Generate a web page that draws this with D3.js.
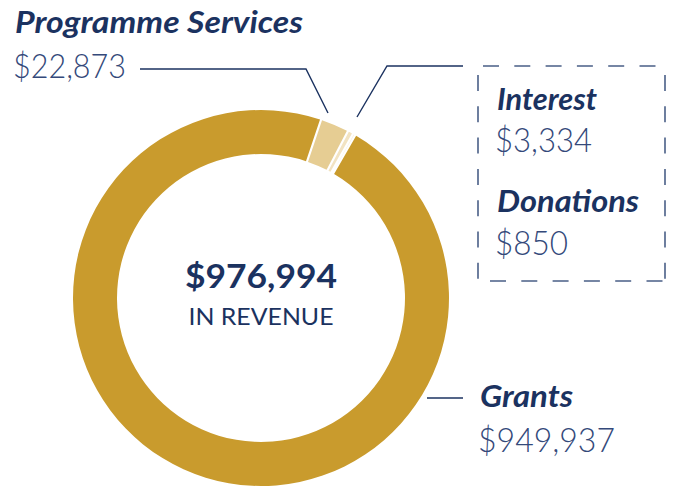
<!DOCTYPE html>
<html>
<head>
<meta charset="utf-8">
<script src="https://cdn.jsdelivr.net/npm/d3@7"></script>
<style>
  body { margin: 0; background: #fff; }
  svg { display: block; }
</style>
</head>
<body>
<div id="chart"></div>
<script>
// revenue sources, clockwise from the top
const labels = ['Programme Services', 'Interest', 'Donations', 'Grants'];
const values = [22873, 3334, 850, 949937];
const colors = ['#e6cd93', '#f2e3c2', '#f6ecd4', '#c99b2d'];
const totalText = '$976,994';
const totalSub = 'IN REVENUE';

const width = 674;
const height = 487;
const cx = 261;
const cy = 298;
const outerR = 188;
const innerR = 144;

const navy = '#1b3260';
const numColor = '#34497a';
const fontFamily = 'Lato, "Open Sans", Roboto, sans-serif';

const fmt = d3.format('$,');

const svg = d3.select('#chart')
  .append('svg')
    .attr('width', width)
    .attr('height', height);

const pie = d3.pie()
  .sort(null)
  .value(d => d)
  .startAngle(0.325)
  .endAngle(0.325 + 2 * Math.PI)
  .padAngle(0.009);

const arc = d3.arc()
  .innerRadius(innerR)
  .outerRadius(outerR);

const g = svg.append('g')
  .attr('transform', `translate(${cx},${cy})`);

g.selectAll('path.slice')
  .data(pie(values))
  .join('path')
    .attr('class', 'slice')
    .attr('d', arc)
    .attr('fill', (d, i) => colors[i]);

// centre text
g.append('text')
  .attr('x', 0)
  .attr('y', -10)
  .attr('text-anchor', 'middle')
  .style('font-family', fontFamily)
  .style('font-weight', 700)
  .style('font-size', '32px')
  .attr('fill', navy)
  .attr('textLength', 152)
  .attr('lengthAdjust', 'spacingAndGlyphs')
  .text(totalText);

g.append('text')
  .attr('x', 0)
  .attr('y', 27)
  .attr('text-anchor', 'middle')
  .style('font-family', fontFamily)
  .style('font-weight', 400)
  .style('font-size', '23px')
  .attr('fill', navy)
  .attr('textLength', 145)
  .attr('lengthAdjust', 'spacingAndGlyphs')
  .text(totalSub);

// labels: name, value, positions and widths read from the layout
const labelPos = [
  {x: 15, yName: 33, yVal: 78, wName: 288, wVal: 113},
  {x: 497, yName: 110, yVal: 152, wName: 100, wVal: 97},
  {x: 497, yName: 212, yVal: 255, wName: 142, wVal: 73},
  {x: 480, yName: 407, yVal: 452, wName: 93, wVal: 137}
];

labels.forEach((name, i) => {
  const p = labelPos[i];
  svg.append('text')
    .attr('x', p.x)
    .attr('y', p.yName)
    .style('font-family', fontFamily)
    .style('font-weight', 700)
    .style('font-style', 'italic')
    .style('font-size', '30px')
    .attr('fill', navy)
    .attr('textLength', p.wName)
    .attr('lengthAdjust', 'spacingAndGlyphs')
    .text(name);

  svg.append('text')
    .attr('x', p.x - 2)
    .attr('y', p.yVal)
    .style('font-family', fontFamily)
    .style('font-weight', 300)
    .style('font-size', '33px')
    .attr('fill', numColor)
    .attr('textLength', p.wVal)
    .attr('lengthAdjust', 'spacingAndGlyphs')
    .text(fmt(values[i]));
});

// leader lines
const line = d3.line();
const leaders = [
  [[140, 69], [306, 69], [328, 113]],
  [[357, 117], [387, 66], [463, 66]],
  [[427, 398], [463, 398]]
];
svg.selectAll('path.leader')
  .data(leaders)
  .join('path')
    .attr('class', 'leader')
    .attr('d', line)
    .attr('fill', 'none')
    .attr('stroke', navy)
    .attr('stroke-width', 1.4);

// dashed box around the two small slices
const box = [
  [[483, 66], [665, 66]],
  [[665, 75], [665, 281]],
  [[490, 281], [665, 281]],
  [[478, 75], [478, 281]]
];
svg.selectAll('path.box')
  .data(box)
  .join('path')
    .attr('class', 'box')
    .attr('d', line)
    .attr('fill', 'none')
    .attr('stroke', '#4a5f87')
    .attr('stroke-width', 1.6)
    .attr('stroke-dasharray', '16,15.3');
</script>
</body>
</html>
